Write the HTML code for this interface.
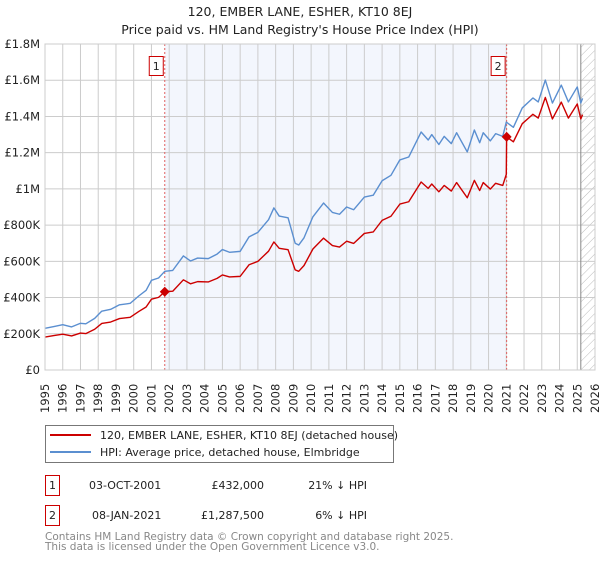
<!DOCTYPE html>
<html><head><meta charset="utf-8"><style>
body{margin:0;background:#fff;width:600px;height:560px;overflow:hidden;font-family:"DejaVu Sans","Liberation Sans",sans-serif;}
svg text{font-family:"DejaVu Sans","Liberation Sans",sans-serif;}
</style></head><body>
<svg id="chart" width="600" height="560" xmlns="http://www.w3.org/2000/svg">
<defs><pattern id="hatch" width="6" height="6" patternUnits="userSpaceOnUse" patternTransform="rotate(45)"><line x1="0" y1="0" x2="0" y2="6" stroke="#bbb" stroke-width="1"/></pattern></defs>
<text x="300" y="16" text-anchor="middle" font-size="12.5" fill="#222">120, EMBER LANE, ESHER, KT10 8EJ</text>
<text x="300" y="34" text-anchor="middle" font-size="12.5" fill="#222">Price paid vs. HM Land Registry's House Price Index (HPI)</text>
<g id="plot"></g>
<g>
<rect x="45.5" y="425.5" width="348" height="37" fill="#fff" stroke="#777"/>
<line x1="50" y1="435" x2="91" y2="435" stroke="#cc0000" stroke-width="2"/>
<text x="100" y="439" font-size="11" fill="#222">120, EMBER LANE, ESHER, KT10 8EJ (detached house)</text>
<line x1="50" y1="452" x2="91" y2="452" stroke="#5b8fd0" stroke-width="2"/>
<text x="100" y="456" font-size="11" fill="#222">HPI: Average price, detached house, Elmbridge</text>
</g>
<g font-size="11" fill="#222">
<rect x="45.5" y="475.5" width="14" height="20" fill="#fff" stroke="#cc0000"/>
<text x="52.5" y="489" text-anchor="middle">1</text>
<text x="89" y="489">03-OCT-2001</text>
<text x="264" y="489" text-anchor="end">£432,000</text>
<text x="367" y="489" text-anchor="end">21% ↓ HPI</text>
</g>
<g font-size="11" fill="#222">
<rect x="45.5" y="505.5" width="14" height="20" fill="#fff" stroke="#cc0000"/>
<text x="52.5" y="519" text-anchor="middle">2</text>
<text x="92" y="519">08-JAN-2021</text>
<text x="264" y="519" text-anchor="end">£1,287,500</text>
<text x="367" y="519" text-anchor="end">6% ↓ HPI</text>
</g>
<text x="45" y="540" font-size="10.5" fill="#888">Contains HM Land Registry data © Crown copyright and database right 2025.</text>
<text x="45" y="550" font-size="10.5" fill="#888">This data is licensed under the Open Government Licence v3.0.</text>
</svg>
<script>
const hpiYears=[1995.0,1995.5,1996.0,1996.5,1997.0,1997.3,1997.8,1998.2,1998.7,1999.2,1999.8,2000.3,2000.7,2001.0,2001.4,2001.75,2002.2,2002.8,2003.2,2003.6,2004.2,2004.7,2005.0,2005.4,2006.0,2006.5,2007.0,2007.6,2007.9,2008.2,2008.7,2009.1,2009.3,2009.6,2010.1,2010.7,2011.2,2011.6,2012.0,2012.4,2013.0,2013.5,2014.0,2014.5,2015.0,2015.5,2016.2,2016.6,2016.8,2017.2,2017.5,2017.9,2018.2,2018.8,2019.2,2019.5,2019.7,2020.1,2020.4,2020.8,2021.0,2021.4,2021.9,2022.5,2022.8,2023.2,2023.6,2024.1,2024.5,2025.0,2025.2,2025.3];
const hpiValues=[230,240,250,238,258,255,285,325,335,360,368,410,440,495,508,545,550,630,602,618,615,640,665,650,655,735,760,830,895,850,840,700,690,730,846,922,870,860,900,885,955,965,1045,1075,1160,1176,1314,1270,1300,1245,1290,1250,1310,1204,1325,1255,1310,1265,1305,1290,1369,1340,1447,1502,1480,1601,1474,1573,1480,1563,1474,1500];
const priceYears=[1995.0,1995.5,1996.0,1996.5,1997.0,1997.3,1997.8,1998.2,1998.7,1999.2,1999.8,2000.3,2000.7,2001.0,2001.4,2001.75,2002.2,2002.8,2003.2,2003.6,2004.2,2004.7,2005.0,2005.4,2006.0,2006.5,2007.0,2007.6,2007.9,2008.2,2008.7,2009.1,2009.3,2009.6,2010.1,2010.7,2011.2,2011.6,2012.0,2012.4,2013.0,2013.5,2014.0,2014.5,2015.0,2015.5,2016.2,2016.6,2016.8,2017.2,2017.5,2017.9,2018.2,2018.8,2019.2,2019.5,2019.7,2020.1,2020.4,2020.8,2021.0,2021.02,2021.4,2021.9,2022.5,2022.8,2023.2,2023.6,2024.1,2024.5,2025.0,2025.2,2025.3];
const priceValues=[182,190,198,188,204,201,225,257,265,284,291,324,348,391,401,432,435,498,476,488,486,506,525,514,517,581,600,656,707,672,664,553,545,577,668,728,687,679,711,699,754,762,826,849,916,929,1038,1003,1027,984,1019,988,1035,951,1047,991,1035,999,1031,1019,1080,1287.5,1260,1360,1412,1391,1505,1386,1479,1391,1469,1386,1410];
const saleYears=[2001.75,2021.02];
const saleValues=[432,1287.5];
const saleLabels=["1","2"];
const yTicks=[0,200,400,600,800,1000,1200,1400,1600,1800];
const yTickLabels=["£0","£200K","£400K","£600K","£800K","£1M","£1.2M","£1.4M","£1.6M","£1.8M"];
const xTicks=[1995,1996,1997,1998,1999,2000,2001,2002,2003,2004,2005,2006,2007,2008,2009,2010,2011,2012,2013,2014,2015,2016,2017,2018,2019,2020,2021,2022,2023,2024,2025,2026];
const dataEnd=2025.2;

const L=45,R=595,T=44,B=370;
const xs=y=>L+(y-1995)/(2026-1995)*(R-L);
const ys=v=>B-v/1800*(B-T);
const NS="http://www.w3.org/2000/svg";
const plot=document.getElementById('plot');
function mk(tag,attrs,parent){const e=document.createElementNS(NS,tag);for(const k in attrs)e.setAttribute(k,attrs[k]);(parent||plot).appendChild(e);return e;}

const shade=mk('rect',{x:xs(saleYears[0]),y:T,width:xs(saleYears[1])-xs(saleYears[0]),height:B-T,fill:'#f3f6fd'});


const hatch=mk('rect',{x:xs(dataEnd),y:T,width:R-xs(dataEnd),height:B-T,fill:'url(#hatch)'});



xTicks.forEach(t=>{
  const g=mk('line',{x1:xs(t),x2:xs(t),y1:T,y2:B,stroke:'#ccc','stroke-width':1});
  
  
  const tx=mk('text',{transform:`translate(${xs(t)+4},413) rotate(-90)`,'font-size':11.5,fill:'#222'});
  
  
  tx.textContent=t;
});
yTicks.forEach((t,i)=>{
  const g=mk('line',{x1:L,x2:R,y1:ys(t),y2:ys(t),stroke:'#ccc','stroke-width':1});
  
  
  const tx=mk('text',{x:40,y:ys(t)+4,'text-anchor':'end','font-size':11.5,fill:'#222'});
  
  
  tx.textContent=yTickLabels[i];
});
const endLine=mk('line',{x1:xs(dataEnd),x2:xs(dataEnd),y1:T,y2:B,stroke:'#888','stroke-width':1});



saleYears.forEach((y,i)=>{
  const v=mk('line',{x1:xs(y),x2:xs(y),y1:T,y2:B,stroke:'#e06060','stroke-width':1,'stroke-dasharray':'2,2'});
  
  
  const b=mk('rect',{x:xs(y)-15.5,y:56.5,width:14,height:19,fill:'#fff',stroke:'#cc0000'});
  
  
  const t=mk('text',{x:xs(y)-8.5,y:70,'text-anchor':'middle','font-size':11,fill:'#222'});
  
  
  t.textContent=saleLabels[i];
});

const hp=mk('polyline',{points:hpiYears.map((y,i)=>xs(y)+','+ys(hpiValues[i])).join(' '),fill:'none',stroke:'#5b8fd0','stroke-width':1.4,'stroke-linejoin':'round'});


const pp=mk('polyline',{points:priceYears.map((y,i)=>xs(y)+','+ys(priceValues[i])).join(' '),fill:'none',stroke:'#cc0000','stroke-width':1.4,'stroke-linejoin':'round'});


saleYears.forEach((y,i)=>{
  const cx=xs(y),cy=ys(saleValues[i]);
  const d=mk('polygon',{points:`${cx},${cy-5} ${cx+5},${cy} ${cx},${cy+5} ${cx-5},${cy}`,fill:'#cc0000'});
  
  
});
const ax=mk('rect',{x:L,y:T,width:R-L,height:B-T,fill:'none',stroke:'#ccc'});


</script>
</body></html>
